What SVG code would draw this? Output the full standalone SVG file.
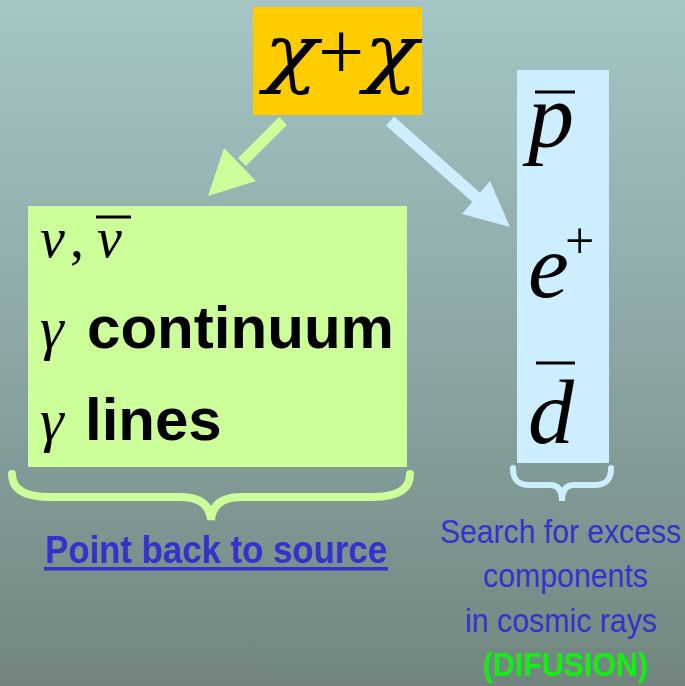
<svg xmlns="http://www.w3.org/2000/svg" width="685" height="686" viewBox="0 0 685 686">
<defs>
<linearGradient id="bg" x1="0" y1="0" x2="0" y2="1">
<stop offset="0" stop-color="#a5c5c5"/>
<stop offset="0.5" stop-color="#8ca7a5"/>
<stop offset="1" stop-color="#72857f"/>
</linearGradient>
</defs>
<style>
.math{font-family:"Liberation Serif","DejaVu Serif",serif;font-style:italic;fill:#000}
.chi{font-family:"DejaVu Serif","Liberation Serif",serif;font-style:italic;fill:#000}
.up{font-family:"Liberation Serif","DejaVu Serif",serif;font-style:normal;fill:#000}
.bold{font-family:"Liberation Sans",Arial,sans-serif;font-weight:bold;fill:#000}
.lbl{font-family:"Liberation Sans",Arial,sans-serif;fill:#3333cc;font-size:33px}
.bar{stroke:#000;stroke-width:3}
</style>
<rect width="685" height="686" fill="url(#bg)"/>

<g id="connectors">
<line x1="283" y1="121" x2="242" y2="162" stroke="#ccff99" stroke-width="11"/>
<polygon points="208,196 256,181 224,148" fill="#ccff99"/>
<line x1="390" y1="121" x2="478" y2="199" stroke="#cceeff" stroke-width="12"/>
<polygon points="510,227 462,214 490,181" fill="#cceeff"/>
<path d="M12,474 C12,490 25,497 50,497 L180,497 C200,497 210,505 211,520 C212,505 222,497 242,497 L372,497 C397,497 410,490 410,474" fill="none" stroke="#ccff99" stroke-width="8" stroke-linecap="round"/>
<path d="M513,468 C513,480 518,485 530,485 L550,485 C558,485 562,490 562,501 C562,490 566,485 574,485 L594,485 C606,485 611,480 611,468" fill="none" stroke="#cceeff" stroke-width="6" stroke-linecap="round"/>
</g>

<g id="node-chi">
<rect x="253" y="7" width="169" height="108" fill="#ffcc00"/>
<text class="chi" x="264" y="78" font-size="74" textLength="54" lengthAdjust="spacingAndGlyphs">χ</text>
<text class="up" x="318" y="79" font-size="82">+</text>
<text class="chi" x="364" y="78" font-size="74" textLength="54" lengthAdjust="spacingAndGlyphs">χ</text>
</g>

<g id="node-green">
<rect x="28" y="206" width="379" height="261" fill="#ccff99"/>
<text class="math" x="40" y="257" font-size="56">ν</text>
<text class="up" x="70" y="257" font-size="56">,</text>
<text class="math" x="97" y="257" font-size="56">ν</text>
<line class="bar" x1="96" y1="217" x2="131" y2="217"/>
<text class="math" x="40" y="348" font-size="60">γ</text>
<text class="bold" x="87" y="348" font-size="60" textLength="307" lengthAdjust="spacingAndGlyphs">continuum</text>
<text class="math" x="40" y="440" font-size="60">γ</text>
<text class="bold" x="85" y="440" font-size="60">lines</text>
</g>

<g id="node-blue">
<rect x="517" y="70" width="92" height="393" fill="#cceeff"/>
<text class="math" x="528" y="147" font-size="92">p</text>
<line class="bar" x1="535" y1="92" x2="575" y2="92"/>
<text class="math" x="528" y="297" font-size="92">e</text>
<text class="up" x="565" y="258" font-size="52">+</text>
<text class="math" x="528" y="443" font-size="92">d</text>
<line class="bar" x1="536" y1="363" x2="575" y2="363"/>
</g>

<g id="label-left">
<text x="45" y="563" font-family="Liberation Sans,Arial,sans-serif" font-weight="bold" font-size="39" fill="#3333cc" textLength="342" lengthAdjust="spacingAndGlyphs">Point back to source</text>
<rect x="44" y="567" width="344" height="3.5" fill="#3333cc"/>
</g>

<g id="label-right">
<text class="lbl" x="440" y="543" textLength="241" lengthAdjust="spacingAndGlyphs">Search for excess</text>
<text class="lbl" x="483" y="587" textLength="165" lengthAdjust="spacingAndGlyphs">components</text>
<text class="lbl" x="465" y="632" textLength="192" lengthAdjust="spacingAndGlyphs">in cosmic rays</text>
<text class="lbl" x="483" y="676" textLength="165" lengthAdjust="spacingAndGlyphs" style="fill:#11ee11;font-weight:bold">(DIFUSION)</text>
</g>
</svg>
